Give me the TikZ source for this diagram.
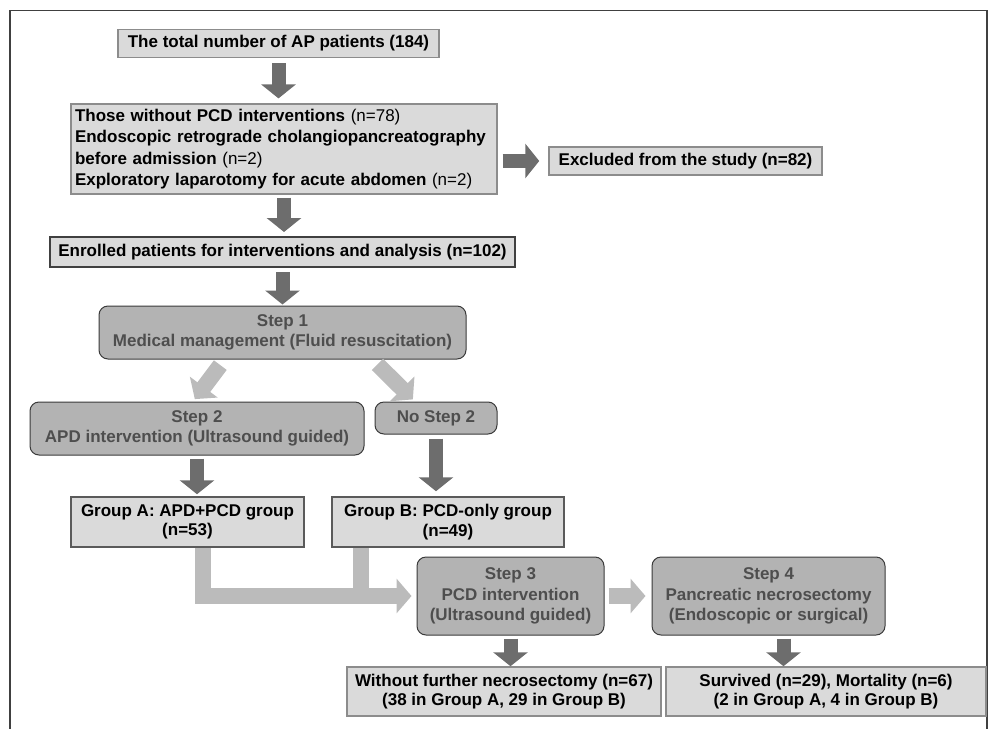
\documentclass[tikz,border=0pt]{standalone}
\usepackage{fontspec}
\setmainfont{Liberation Sans}
\usetikzlibrary{arrows.meta}

\definecolor{boxfill}{HTML}{DADADA}
\definecolor{stepfill}{HTML}{B3B3B3}
\definecolor{steptext}{HTML}{4E4E4E}
\definecolor{stepline}{HTML}{3A3A3A}
\definecolor{boxline}{HTML}{5A5A5A}
\definecolor{softline}{HTML}{8C8C8C}
\definecolor{darkline}{HTML}{404040}
\definecolor{darkarrow}{HTML}{6D6D6D}
\definecolor{lightarrow}{HTML}{BBBBBB}

\begin{document}
\begin{tikzpicture}[x=1pt,y=-1pt,
    plainbox/.style={draw=boxline,line width=1.5pt,fill=boxfill,inner sep=0pt,
      font=\fontsize{17}{19.5}\selectfont\bfseries,align=center},
    stepbox/.style={draw=stepline,line width=1pt,fill=stepfill,rounded corners=9pt,
      inner sep=0pt,text=steptext,font=\fontsize{17}{20.5}\selectfont\bfseries,align=center},
    darrow/.style={draw=darkarrow,line width=14pt,-{Triangle[length=14pt,width=34pt]}},
    larrow/.style={draw=lightarrow,line width=16pt,line join=miter,-{Triangle[length=15pt,width=34pt]}},
    lline/.style={draw=lightarrow,line width=16pt,line join=miter}]
    \useasboundingbox (0,0) rectangle (992,728);
    \draw[darkline,line width=1.5pt] (10,740) -- (10,10.5) -- (987,10.5) -- (987,740);

    \node[plainbox,draw=softline,line width=1.2pt,minimum width=321pt,minimum height=28pt] (total) at (278.5,43.5) {The total number of AP patients (184)};
    \node[plainbox,draw=softline,line width=1.2pt,minimum width=426pt,minimum height=90pt,text width=418pt,inner xsep=4pt,align=left,
      font=\fontsize{17}{21.5}\selectfont\bfseries] (without) at (284,149)
      {Those without PCD interventions {\mdseries(n=78)}\\Endoscopic retrograde cholangiopancreatography\\before admission {\mdseries(n=2)}\\Exploratory laparotomy for acute abdomen {\mdseries(n=2)}};
    \node[plainbox,draw=softline,minimum width=273pt,minimum height=28pt] (excl) at (685.5,161) {Excluded from the study (n=82)};
    \node[plainbox,draw=darkline,line width=2pt,minimum width=465pt,minimum height=30pt] (enrolled) at (282.5,252) {Enrolled patients for interventions and analysis (n=102)};

    \node[stepbox,minimum width=367pt,minimum height=53pt] (step1) at (282.5,332.5) {Step 1\\Medical management (Fluid resuscitation)};
    \node[stepbox,minimum width=334pt,minimum height=53pt] (step2) at (197,428.5) {Step 2\\APD intervention (Ultrasound guided)};
    \node[stepbox,minimum width=122pt,minimum height=32pt] (nostep2) at (436,418) {No Step 2};

    \node[plainbox,minimum width=233pt,minimum height=50pt] (grpA) at (187.5,522) {Group A: APD+PCD group\\(n=53)};
    \node[plainbox,minimum width=232pt,minimum height=50pt] (grpB) at (448,522) {Group B: PCD-only group\\(n=49)};

    \node[stepbox,minimum width=187pt,minimum height=78pt] (step3) at (510.5,596) {Step 3\\PCD intervention\\(Ultrasound guided)};
    \node[stepbox,minimum width=233pt,minimum height=78pt] (step4) at (768.5,596) {Step 4\\Pancreatic necrosectomy\\(Endoscopic or surgical)};

    \node[plainbox,draw=softline,minimum width=314pt,minimum height=49pt] (outA) at (504,691.5) {Without further necrosectomy (n=67)\\(38 in Group A, 29 in Group B)};
    \node[plainbox,draw=softline,minimum width=320pt,minimum height=49pt] (outB) at (826,691.5) {Survived (n=29), Mortality (n=6)\\(2 in Group A, 4 in Group B)};

    \coordinate (a4) at ([xshift=15pt]step4.south);
    \coordinate (la) at ([xshift=15pt]grpA.south);
    \coordinate (lb) at ([xshift=-87pt]grpB.south);

    \draw[darrow,shorten <=5pt,shorten >=5pt] (total.south) -- (total.south |- without.north);
    \draw[darrow,shorten <=5pt,shorten >=9pt] (without.east |- excl.west) -- (excl.west);
    \draw[darrow,shorten <=3pt,shorten >=4pt] (without.south) -- (without.south |- enrolled.north);
    \draw[darrow,shorten <=4pt,shorten >=1pt] (enrolled.south) -- (enrolled.south |- step1.north);
    \draw[larrow,shorten <=7pt,shorten >=3pt] ([xshift=-58pt]step1.south) -- ([xshift=-4pt]step2.north);
    \draw[larrow,shorten <=7pt,shorten >=3pt] ([xshift=90pt]step1.south) -- ([xshift=-21pt]nostep2.north);
    \draw[darrow,shorten <=3pt,shorten >=2pt] (step2.south) -- (step2.south |- grpA.north);
    \draw[darrow,shorten <=4pt,shorten >=5pt] (nostep2.south) -- (nostep2.south |- grpB.north);
    \draw[lline] (lb) |- ([xshift=-30pt]step3.west);
    \draw[larrow,shorten >=5pt] (la) |- (step3.west);
    \draw[larrow,shorten <=4pt,shorten >=6pt] (step3.east) -- (step4.west);
    \draw[darrow,shorten <=3pt] (step3.south) -- (step3.south |- outA.north);
    \draw[darrow,shorten <=3pt] (a4) -- (a4 |- outB.north);
\end{tikzpicture}
\end{document}
